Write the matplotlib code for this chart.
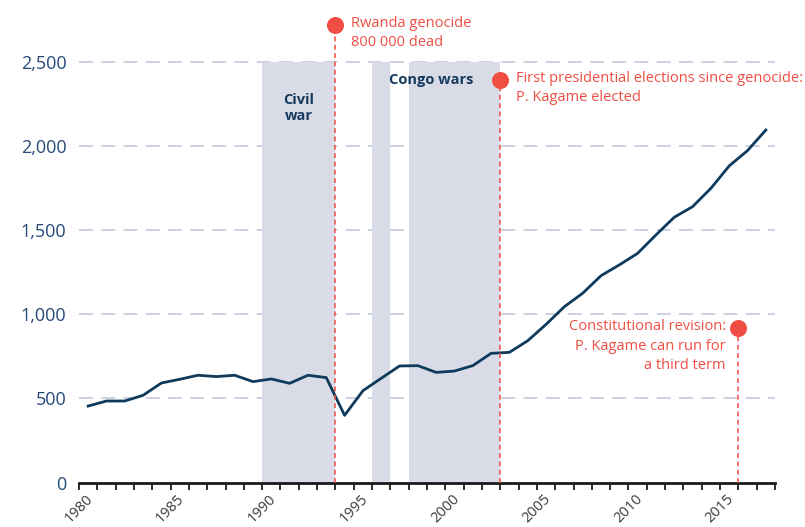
import numpy as np
import matplotlib
matplotlib.use("Agg")
import matplotlib.pyplot as plt

# Data (series)
years = np.arange(1980, 2018)
values = [455, 485, 485, 519, 592, 614, 638, 630, 638, 600,
          616, 590, 638, 624, 400, 546, 620, 693, 695, 655,
          663, 695, 768, 774, 843, 940, 1045, 1125, 1229, 1293,
          1362, 1471, 1576, 1639, 1748, 1881, 1972, 2094]

# Shaded periods
shade_starts = [1990, 1996, 1998]
shade_ends = [1994, 1997, 2003]
shade_top = 2500

# Events
event_years = [1994, 2003, 2016]
event_levels = [2718, 2391, 917]
event_texts = ["Rwanda genocide\n800 000 dead",
               "First presidential elections since genocide:\nP. Kagame elected",
               "Constitutional revision:\nP. Kagame can run for\na third term"]

yticks = [0, 500, 1000, 1500, 2000, 2500]
ytick_labels = ["0", "500", "1,000", "1,500", "2,000", "2,500"]
xticks_major = list(range(1980, 2016, 5))

colors = {
    'line': '#0e3a5c', 'shade': '#d9dce6', 'grid': '#c5c8dc',
    'red': '#f04d43', 'ylab': '#274a78', 'xlab': '#3a3a3a', 'dark': '#163a5e'
}

plt.rcParams['font.family'] = ['Open Sans', 'DejaVu Sans']
plt.rcParams['lines.scale_dashes'] = False

fig = plt.figure(figsize=(8.05, 5.27), dpi=100)
ax = fig.add_axes([79 / 805, 1 - 482.7 / 527, 696 / 805, 482.7 / 527])
ax.set_xlim(1980, 2018)
ax.set_ylim(0, 2866)

# Grid lines
for yv in yticks[1:]:
    ax.plot([1980, 2018], [yv, yv], color=colors['grid'], lw=1.2,
            linestyle=(0, (10, 6)), zorder=1)

# Shaded periods
for s, e in zip(shade_starts, shade_ends):
    ax.fill_between([s, e], 0, shade_top, color=colors['shade'], lw=0, zorder=2)

ax.text(1992, 2225, "Civil\nwar", ha='center', va='center', fontsize=10.5,
        fontweight='bold', color=colors['dark'], linespacing=1.25, zorder=3)
ax.text(1999.25, 2391, "Congo wars", ha='center', va='center', fontsize=10.5,
        fontweight='bold', color=colors['dark'], zorder=3)

# Main line (values plotted mid-year)
ax.plot(years + 0.5, values, color=colors['line'], lw=2, zorder=4,
        solid_joinstyle='round')

# Event markers
for i, (yr, lvl, txt) in enumerate(zip(event_years, event_levels, event_texts)):
    ax.plot([yr, yr], [0, lvl], color=colors['red'], lw=1.1,
            linestyle=(0, (3.5, 2.5)), zorder=5, clip_on=False)
    ax.scatter([yr], [lvl], s=150, color=colors['red'], zorder=6,
               clip_on=False, linewidths=0)
    if i < 2:
        ax.annotate(txt, (yr, lvl), xytext=(11, 6.5), textcoords='offset points',
                    ha='left', va='top', fontsize=10.5, color=colors['red'],
                    linespacing=1.4)
    else:
        ax.annotate(txt, (yr, lvl), xytext=(-9, 6.5), textcoords='offset points',
                    ha='right', va='top', fontsize=10.5, color=colors['red'],
                    linespacing=1.4)

# Axes styling
for side in ['top', 'right', 'left']:
    ax.spines[side].set_visible(False)
ax.spines['bottom'].set_linewidth(2)
ax.spines['bottom'].set_color('#1a1a1a')

ax.set_xticks(years.tolist() + [2018])
ax.set_xticklabels([str(y) if y in xticks_major else '' for y in years] + [''],
                   rotation=45, ha='center', va='top', fontsize=10.5,
                   color=colors['xlab'])
ax.tick_params(axis='x', direction='out', length=5, width=1.3, color='#1a1a1a', pad=1.5)

ax.set_yticks(yticks)
ax.set_yticklabels(ytick_labels, fontsize=13, color=colors['ylab'])
ax.tick_params(axis='y', length=0, pad=9)

fig.savefig('out.png', dpi=100)
